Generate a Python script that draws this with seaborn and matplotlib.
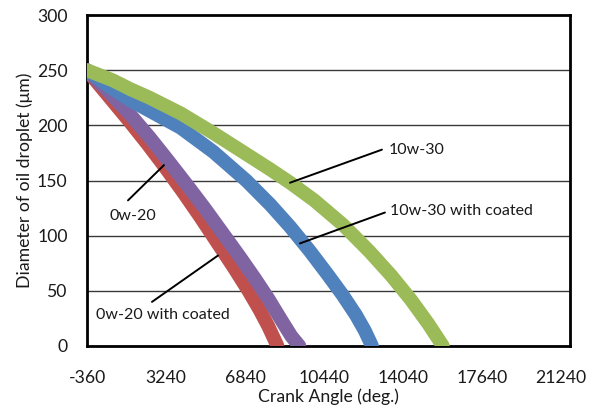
"""
plot.py — Diâmetro da gota de óleo vs ângulo de manivela (4 óleos).
"""

import pandas as pd
import matplotlib.pyplot as plt
import seaborn as sns

# ── Dados ────────────────────────────────────────────────────────
series_names = ["0w-20 with coated", "0w-20", "10w-30 with coated", "10w-30"]

crank_0w20_coated = [-360, 600, 1600, 2400, 3200, 4000, 4800, 5600, 6300, 7000, 7500, 7900, 8320]
diam_0w20_coated = [250, 227, 203, 183, 162, 140, 117, 93, 72, 50, 33, 18, 0]

crank_0w20 = [-360, 600, 1600, 2500, 3300, 4200, 5000, 5800, 6600, 7300, 7900, 8450, 8950, 9320]
diam_0w20 = [250, 231, 210, 189, 169, 146, 125, 103, 81, 61, 43, 25, 9, 0]

crank_10w30_coated = [-360, 600, 1600, 2700, 3900, 5400, 6900, 8000, 8900, 9800, 10600, 11300, 11900, 12300, 12630]
diam_10w30_coated = [250, 236, 223, 211, 198, 176, 150, 128, 108, 86, 65, 46, 28, 14, 0]

crank_10w30 = [-360, 800, 1600, 2500, 3900, 5400, 6900, 8000, 8900, 10000, 11300, 12500, 13500, 14400, 15200, 15860]
diam_10w30 = [250, 241, 233, 225, 211, 193, 174, 160, 148, 132, 110, 86, 64, 42, 20, 0]

colors = ["#C0504D", "#8064A2", "#4F81BD", "#9BBB59"]

x_ticks = [-360, 3240, 6840, 10440, 14040, 17640, 21240]
y_ticks = [0, 50, 100, 150, 200, 250, 300]

# rótulos: (texto, ponto na curva, ponta da linha, posição do texto, alinhamento)
labels = [
    ("0w-20", (3149, 164), (1508, 132), (1736, 118), "center"),
    ("0w-20 with coated", (5610, 82), (2602, 40), (3103, 28), "center"),
    ("10w-30", (8891, 148), (13083, 178), (13380, 178), "left"),
    ("10w-30 with coated", (9346, 93), (13220, 121), (13430, 122), "left"),
]


def build_frame() -> pd.DataFrame:
    parts = []
    for name, xs, ys in zip(series_names,
                            [crank_0w20_coated, crank_0w20, crank_10w30_coated, crank_10w30],
                            [diam_0w20_coated, diam_0w20, diam_10w30_coated, diam_10w30]):
        parts.append(pd.DataFrame({"crank": xs, "diam": ys, "oil": name}))
    return pd.concat(parts, ignore_index=True)


def main():
    sns.set_theme(style="white")
    plt.rcParams["font.family"] = ["Lato", "DejaVu Sans"]
    plt.rcParams["axes.unicode_minus"] = False

    df = build_frame()

    fig = plt.figure(figsize=(5.98, 4.08), dpi=100)
    ax = fig.add_axes([0.1455, 0.152, 0.8075, 0.811])

    for y in y_ticks[1:-1]:
        ax.axhline(y, color="#3a3a3a", lw=1.0, zorder=1)

    sns.lineplot(data=df, x="crank", y="diam", hue="oil", hue_order=series_names,
                 palette=colors, estimator=None, sort=False, legend=False,
                 linewidth=10, solid_capstyle="round", solid_joinstyle="round",
                 ax=ax, zorder=3)

    for text, p_curve, p_end, p_text, ha in labels:
        ax.plot([p_curve[0], p_end[0]], [p_curve[1], p_end[1]],
                color="black", lw=1.4, zorder=4)
        ax.text(p_text[0], p_text[1], text, ha=ha, va="center",
                fontsize=11.5, color="#1a1a1a", zorder=5)

    ax.set_xlim(-360, 21650)
    ax.set_ylim(0, 300)
    ax.set_xticks(x_ticks)
    ax.set_yticks(y_ticks)
    ax.tick_params(axis="both", length=0, labelsize=12.7, colors="#1a1a1a")
    ax.tick_params(axis="x", pad=17)
    ax.tick_params(axis="y", pad=14)
    ax.set_xlabel("Crank Angle (deg.)", fontsize=12.7, color="#1a1a1a", labelpad=2)
    ax.set_ylabel("Diameter of oil droplet (μm)", fontsize=12.7, color="#1a1a1a", labelpad=3)

    for spine in ax.spines.values():
        spine.set_visible(True)
        spine.set_color("black")
        spine.set_linewidth(2.0)

    fig.savefig("out.png", dpi=100)


if __name__ == "__main__":
    main()
